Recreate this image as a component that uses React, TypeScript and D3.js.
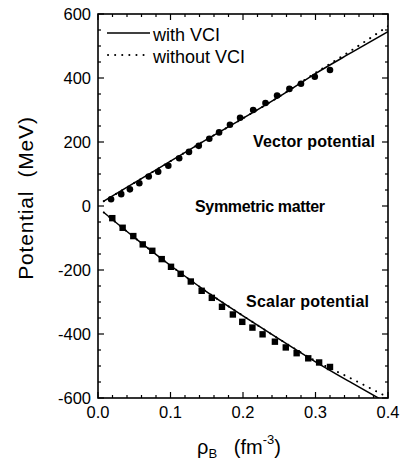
import * as d3 from "d3";

const WIDTH = 406;
const HEIGHT = 466;
const PLOT = { left: 98, right: 388, top: 14, bottom: 398 };

// symbols (model points)
const vectorRho = [0.018, 0.032, 0.044, 0.057, 0.07, 0.083, 0.097, 0.112, 0.1255, 0.139, 0.1535, 0.167, 0.182, 0.196, 0.214, 0.231, 0.247, 0.264, 0.28, 0.299, 0.32];
const vectorU = [21, 37, 52, 71, 92, 107, 126, 149, 169, 188, 210, 230, 254, 276, 300, 322, 345, 366, 382, 404, 425];
const scalarRho = [0.0197, 0.034, 0.0487, 0.0617, 0.0749, 0.0879, 0.1007, 0.114, 0.128, 0.143, 0.157, 0.171, 0.186, 0.199, 0.213, 0.227, 0.244, 0.259, 0.274, 0.29, 0.305, 0.32];
const scalarU = [-38, -68, -94, -120, -140, -166, -190, -212, -236, -265, -287, -315, -339, -362, -380, -401, -424, -442, -460, -476, -489, -503];

// curves
const curveRho = [0.008, 0.05, 0.1, 0.15, 0.2, 0.25, 0.3, 0.35, 0.4];
const vectorWithVCI = [15, 72, 140, 208, 274, 342, 414, 480, 545];
const vectorWithoutVCI = [15, 72, 140, 208, 274, 342, 416, 487, 562];
const scalarWithVCI = [-20, -98, -186, -268, -343, -416, -487, -553, -617];
const scalarWithoutVCI = [-20, -98, -186, -268, -343, -416, -484, -540, -598];

const xTicks = [0, 0.1, 0.2, 0.3, 0.4];
const yTicks = [-600, -400, -200, 0, 200, 400, 600];

const FONT = "'Liberation Sans', Arial, Helvetica, sans-serif";
const DOTS = "0.1 7";

export default function App() {
  const x = d3.scaleLinear().domain([0, 0.4]).range([PLOT.left, PLOT.right]);
  const y = d3.scaleLinear().domain([-600, 600]).range([PLOT.bottom, PLOT.top]);
  const line = d3
    .line<number>()
    .x((_, i) => x(curveRho[i]))
    .y((d) => y(d))
    .curve(d3.curveMonotoneX);

  const xMinor = d3.range(0, 0.4001, 0.02);
  const yMinor = d3.range(-600, 601, 50);

  return (
    <svg width={WIDTH} height={HEIGHT} style={{ position: "absolute", left: 0, top: 0, background: "#fff" }} fontFamily={FONT}>
      <defs>
        <clipPath id="plot-clip">
          <rect x={PLOT.left} y={PLOT.top} width={PLOT.right - PLOT.left} height={PLOT.bottom - PLOT.top} />
        </clipPath>
      </defs>

      {/* ticks, inward on all four sides */}
      <g stroke="#000" strokeWidth="1.2">
        {xMinor.map((t) => {
          const major = Math.abs(t * 10 - Math.round(t * 10)) < 1e-6;
          const len = major ? 6 : 3;
          return (
            <g key={`x${t}`}>
              <line x1={x(t)} x2={x(t)} y1={PLOT.bottom} y2={PLOT.bottom - len} />
              <line x1={x(t)} x2={x(t)} y1={PLOT.top} y2={PLOT.top + len} />
            </g>
          );
        })}
        {yMinor.map((t) => {
          const len = t % 200 === 0 ? 6 : 3;
          return (
            <g key={`y${t}`}>
              <line x1={PLOT.left} x2={PLOT.left + len} y1={y(t)} y2={y(t)} />
              <line x1={PLOT.right} x2={PLOT.right - len} y1={y(t)} y2={y(t)} />
            </g>
          );
        })}
      </g>

      <g clipPath="url(#plot-clip)" fill="none" stroke="#000">
        <path d={line(vectorWithoutVCI) ?? undefined} strokeWidth="2" strokeDasharray={DOTS} strokeLinecap="round" />
        <path d={line(scalarWithoutVCI) ?? undefined} strokeWidth="2" strokeDasharray={DOTS} strokeLinecap="round" />
        <path d={line(vectorWithVCI) ?? undefined} strokeWidth="1.5" />
        <path d={line(scalarWithVCI) ?? undefined} strokeWidth="1.5" />
      </g>

      <g fill="#000">
        {vectorRho.map((r, i) => (
          <circle key={`c${i}`} cx={x(r)} cy={y(vectorU[i])} r="3.3" />
        ))}
        {scalarRho.map((r, i) => (
          <rect key={`s${i}`} x={x(r) - 3.2} y={y(scalarU[i]) - 3.2} width="6.4" height="6.4" />
        ))}
      </g>

      <rect x={PLOT.left} y={PLOT.top} width={PLOT.right - PLOT.left} height={PLOT.bottom - PLOT.top} fill="none" stroke="#000" strokeWidth="1.6" />

      {/* tick labels */}
      <g fontSize="16.5" fill="#000">
        {yTicks.map((t) => (
          <text key={t} x={PLOT.left - 7} y={y(t)} textAnchor="end" dominantBaseline="central">
            {t}
          </text>
        ))}
        {xTicks.map((t) => (
          <text key={t} x={x(t)} y={PLOT.bottom + 20} textAnchor="middle">
            {t.toFixed(1)}
          </text>
        ))}
      </g>

      {/* legend */}
      <line x1="107" x2="150" y1="33" y2="33" stroke="#000" strokeWidth="1.5" />
      <text x="153" y="41" fontSize="18">with VCI</text>
      <line x1="108" x2="146" y1="55" y2="55" stroke="#000" strokeWidth="2" strokeDasharray={DOTS} strokeLinecap="round" />
      <text x="153" y="63" fontSize="18">without VCI</text>

      {/* annotations */}
      <g fontSize="16" fontWeight="bold">
        <text x="253" y="147" textLength="122">Vector potential</text>
        <text x="195" y="212" textLength="130">Symmetric matter</text>
        <text x="246" y="307" textLength="123">Scalar potential</text>
      </g>

      {/* axis titles */}
      <text transform="translate(33 198) rotate(-90)" textAnchor="middle" fontSize="21" letterSpacing="0.8">
        Potential{"\u00a0\u00a0"}(MeV)
      </text>
      <text x="197" y="454" fontSize="20">
        ρ<tspan fontSize="13" dy="4">B</tspan>
        <tspan dy="-4">{"\u00a0\u00a0\u00a0"}(fm</tspan>
        <tspan fontSize="13" dy="-10">-3</tspan>
        <tspan dy="10">)</tspan>
      </text>
    </svg>
  );
}
